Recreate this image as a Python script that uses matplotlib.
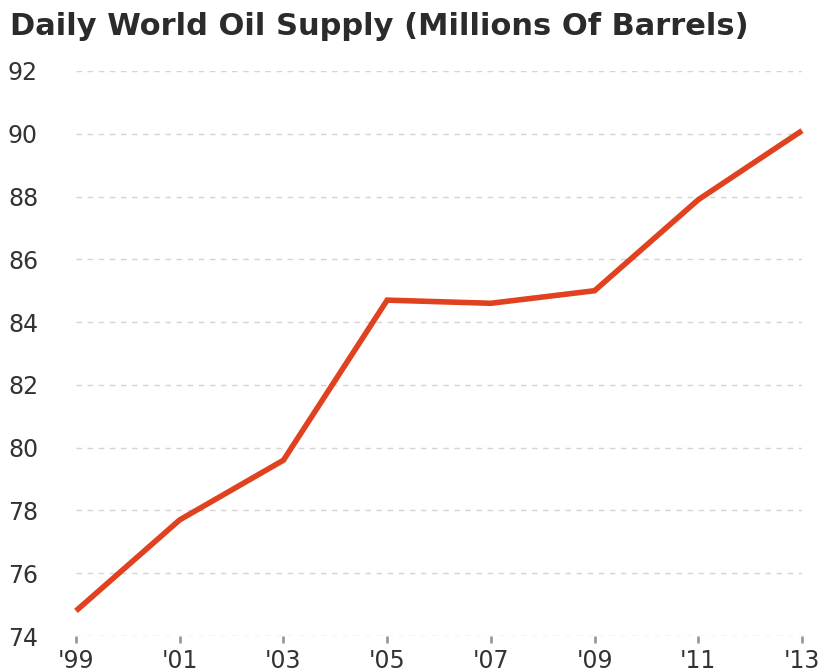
import matplotlib
matplotlib.use("Agg")
import matplotlib.pyplot as plt

years = [1999, 2001, 2003, 2005, 2007, 2009, 2011, 2013]
tick_labels = ["'99", "'01", "'03", "'05", "'07", "'09", "'11", "'13"]
supply = [74.8, 77.7, 79.6, 84.7, 84.6, 85.0, 87.9, 90.1]
y_ticks = [74, 76, 78, 80, 82, 84, 86, 88, 90, 92]

plt.rcParams['font.family'] = ['DejaVu Sans']

fig = plt.figure(figsize=(8.28, 6.71), dpi=100)
ax = fig.add_axes([76/828, 1-636/671, (802-76)/828, (636-71)/671])

ax.plot(years, supply, color='#e0411f', linewidth=4, clip_on=False,
        solid_capstyle='butt', solid_joinstyle='miter', zorder=3)

ax.set_xlim(1999, 2013)
ax.set_ylim(74, 92)
ax.set_yticks(y_ticks)
ax.set_yticklabels([str(v) for v in y_ticks])
ax.set_xticks(years)
ax.set_xticklabels(tick_labels)

for s in ax.spines.values():
    s.set_visible(False)

ax.grid(axis='y', color='#d4d4d4', linestyle=(0, (4, 4)), linewidth=1)
ax.set_axisbelow(True)

ax.tick_params(axis='y', length=0, pad=49, labelsize=17, labelcolor='#333333')
for lab in ax.get_yticklabels():
    lab.set_horizontalalignment('left')
ax.tick_params(axis='x', length=5, width=2, color='#999999', pad=4,
               labelsize=17, labelcolor='#333333', direction='out')

fig.text(10/828, 1-35/671, 'Daily World Oil Supply (Millions Of Barrels)',
         fontsize=22, fontweight='bold', color='#2b2b2b', ha='left', va='baseline')

fig.savefig('out.png', dpi=100, facecolor='white')
